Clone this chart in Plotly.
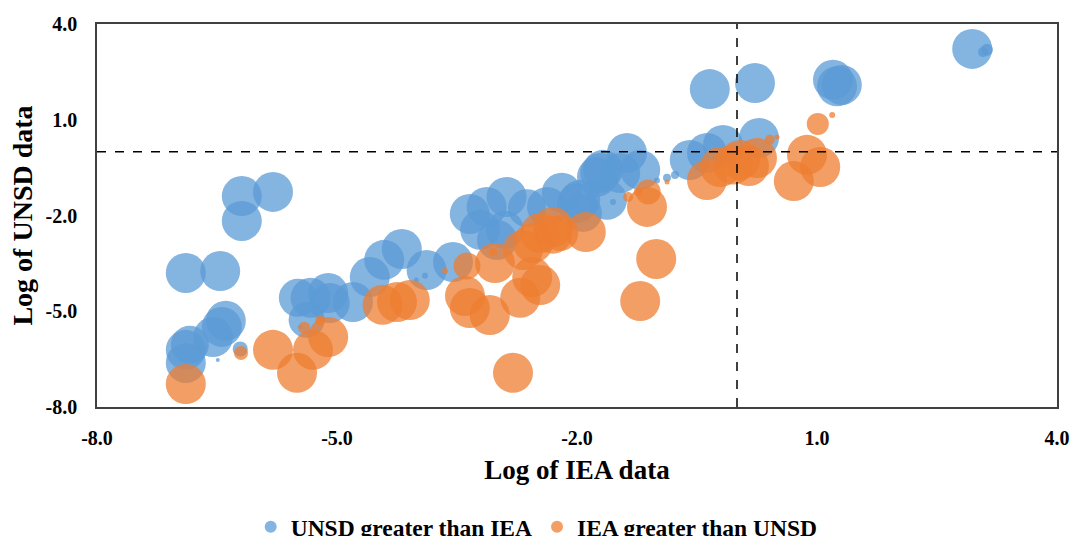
import plotly.graph_objects as go

# UNSD greater than IEA (blue)
unsd_x = [-6.89, -6.46, -6.19, -5.80, -6.19, -6.39, -6.44, -6.55, -6.89, -6.89, -6.84, -6.21, -6.49,
          -5.33, -5.11, -5.09, -4.80, -5.38, -5.49, -4.59, -4.41, -4.19, -3.88, -3.55,
          -3.34, -3.13, -2.88, -3.21, -3.00, -2.90, -2.625, -2.375, -2.19, -2.00, -1.925,
          -1.75, -1.675, -1.375, -1.71, -1.46, -1.21, -1.96, -1.625,
          -0.59, -0.375, -0.175, -0.34, 0.225, 1.20, 1.31, 1.25, 0.275,
          2.94, 3.125, 3.075,
          -3.90, -4.01, -1.55, -0.875, -0.775, -5.46, -1.00]
unsd_y = [-3.80, -3.74, -1.39, -1.26, -2.17, -5.30, -5.49, -5.81, -6.21, -6.62, -6.05, -6.18, -6.53,
          -4.58, -4.43, -4.74, -4.71, -5.27, -4.58, -3.93, -3.39, -3.05, -3.71, -3.46,
          -1.95, -1.73, -1.42, -2.45, -2.77, -2.45, -1.77, -1.73, -1.29, -1.61, -1.92,
          -0.79, -0.57, -0.04, -0.67, -0.67, -0.57, -1.51, -1.51,
          -0.26, -0.04, 0.21, 1.96, 2.15, 2.25, 2.09, 2.05, 0.43,
          3.22, 3.19, 3.12,
          -3.89, -4.02, -1.58, -0.82, -0.73, -5.49, -0.90]
unsd_s = [40, 40, 40, 40, 40, 40, 40, 40, 40, 40, 38, 15, 4,
          40, 40, 40, 40, 36, 38, 40, 40, 40, 40, 40,
          40, 40, 40, 40, 40, 38, 38, 40, 40, 40, 38,
          40, 40, 40, 40, 40, 40, 40, 40,
          40, 40, 40, 40, 40, 40, 40, 40, 40,
          40, 12, 10,
          6, 5, 6, 8, 8, 4, 6]

# IEA greater than UNSD (orange)
iea_x = [-6.89, -6.20, -5.80, -5.50, -5.30, -5.11, -5.41, -5.21,
         -4.43, -4.25, -4.09, -3.40, -3.34, -3.09, -2.80, -2.71,
         -3.375, -3.025, -3.05, -3.65,
         -1.21, -1.01, -1.125, -1.11, -1.89, -2.21,
         -2.46, -2.56, -2.675, -2.46, -2.30, -2.55, -2.30,
         -0.375, -0.21, -0.05, 0.04, 0.25, 0.15,
         0.71, 0.875, 1.04, 1.01, 1.19, 0.41, 0.50,
         -1.36, -1.24, -0.875]
iea_y = [-7.28, -6.31, -6.21, -6.93, -6.21, -5.81, -5.52, -5.30,
         -4.80, -4.71, -4.65, -4.52, -4.90, -5.12, -6.93, -4.58,
         -3.58, -3.49, -3.14, -3.74,
         -4.68, -3.36, -1.73, -1.26, -2.52, -2.55,
         -4.18, -3.93, -3.08, -2.55, -2.36, -2.86, -2.60,
         -0.89, -0.48, -0.40, -0.26, -0.20, -0.45,
         -0.92, -0.10, -0.48, 0.87, 1.15, 0.37, 0.46,
         -1.42, -1.26, -0.95]
iea_s = [40, 14, 40, 40, 40, 40, 12, 10,
         40, 40, 40, 40, 40, 40, 40, 40,
         27, 40, 8, 6,
         40, 40, 40, 25, 40, 36,
         40, 40, 40, 40, 40, 40, 38,
         40, 40, 40, 40, 40, 40,
         40, 40, 40, 22, 6, 10, 5,
         10, 8, 5]

tick_vals = [-8.0, -5.0, -2.0, 1.0, 4.0]
tick_text = ["-8.0", "-5.0", "-2.0", "1.0", "4.0"]

FONT = "Liberation Serif"
fig = go.Figure()
fig.add_trace(go.Scatter(
    x=unsd_x, y=unsd_y, mode="markers", name="UNSD greater than IEA",
    marker=dict(size=unsd_s, sizemode="diameter", sizeref=1, opacity=0.75,
                color="#5B9BD5", line=dict(width=0)),
))
fig.add_trace(go.Scatter(
    x=iea_x, y=iea_y, mode="markers", name="IEA greater than UNSD",
    marker=dict(size=iea_s, sizemode="diameter", sizeref=1, opacity=0.75,
                color="#ED7D31", line=dict(width=0)),
))

fig.add_shape(type="line", x0=0, x1=0, y0=-8, y1=4, xref="x", yref="y",
              line=dict(color="black", width=1.5, dash="dash"))
fig.add_shape(type="line", x0=-8, x1=4, y0=0, y1=0, xref="x", yref="y",
              line=dict(color="black", width=1.5, dash="dash"))

axis_common = dict(
    showgrid=False, zeroline=False, showline=True, linecolor="#404040", linewidth=1.5,
    mirror=True, ticks="", automargin=False, ticklabeloverflow="allow",
    tickvals=tick_vals, ticktext=tick_text,
    tickfont=dict(family=FONT, size=20, color="black", weight="bold"),
)
fig.update_xaxes(range=[-8, 4], ticklabelstandoff=12,
                 title=dict(text="Log of IEA data", standoff=12,
                            font=dict(family=FONT, size=27, color="black", weight="bold")),
                 **axis_common)
fig.update_yaxes(range=[-8, 4], ticklabelstandoff=14,
                 title=dict(text="Log of UNSD data", standoff=5,
                            font=dict(family=FONT, size=28, color="black", weight="bold")),
                 **axis_common)

fig.update_layout(
    width=1075, height=536,
    margin=dict(l=97, r=18, t=24, b=129, autoexpand=False),
    plot_bgcolor="white", paper_bgcolor="white",
    showlegend=True,
    legend=dict(orientation="h", x=0.458, xanchor="center", y=-0.313, yanchor="middle",
                itemsizing="constant",
                font=dict(family=FONT, size=23.5, color="black", weight="bold")),
)

fig.write_html("out.html", config={"displayModeBar": False},
               post_script="document.body.style.margin='0';document.body.style.overflow='hidden';")
